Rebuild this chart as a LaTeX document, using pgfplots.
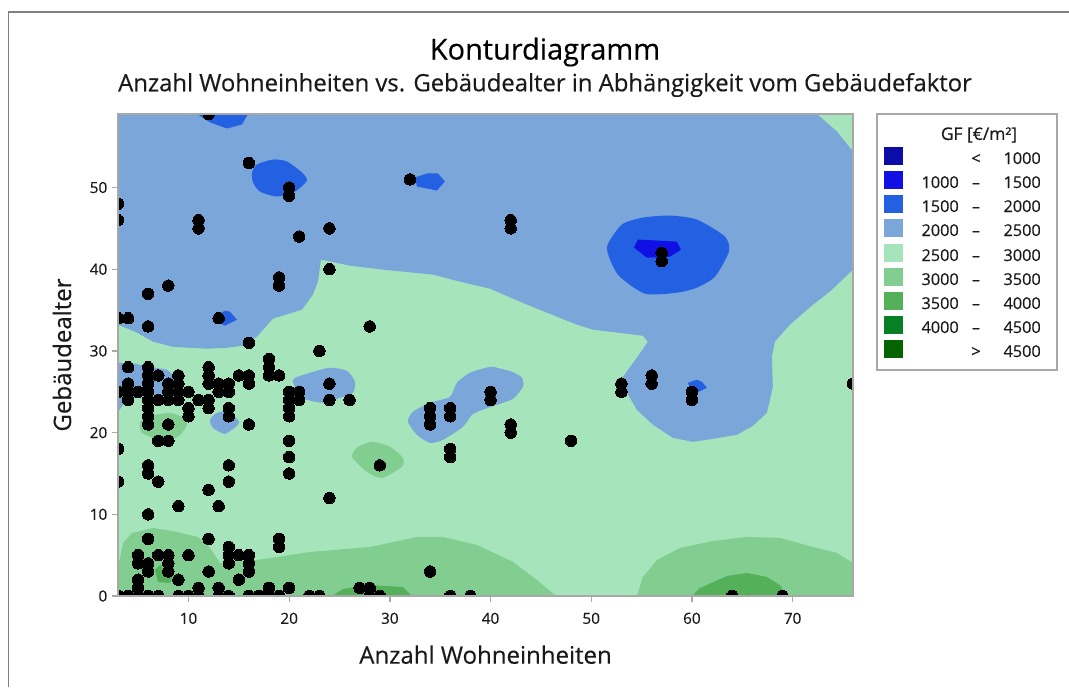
\documentclass[border=0pt]{standalone}
\usepackage{pgfplots}
\usepackage{fontspec}
\setmainfont{Open Sans}
\newfontfamily\semi[FakeBold=0.35]{Open Sans}
\pgfplotsset{compat=1.18}
\definecolor{cA}{HTML}{0C0CA8}
\definecolor{cB}{HTML}{1010E4}
\definecolor{cC}{HTML}{2461E2}
\definecolor{cD}{HTML}{7BA6D9}
\definecolor{cE}{HTML}{A6E5BC}
\definecolor{cF}{HTML}{82CE90}
\definecolor{cG}{HTML}{55B05A}
\definecolor{cH}{HTML}{067F25}
\definecolor{cI}{HTML}{056300}
\definecolor{frameg}{HTML}{A8A8A8}
\definecolor{txt}{HTML}{1A1A1A}
\begin{document}
\begin{tikzpicture}
\path[use as bounding box] (0,0) rectangle (801.75pt,515.25pt);
\fill[white] (0,0) rectangle (801.75pt,515.25pt);
\begin{axis}[
 at={(88.5pt,68.25pt)},anchor=south west,
 scale only axis,width=551.25pt,height=361.5pt,
 xmin=3,xmax=76,ymin=0,ymax=59,
 xtick={10,20,30,40,50,60,70},ytick={0,10,20,30,40,50},
 axis line style={color=frameg,line width=1.1pt},
 tick style={color=frameg,line width=1pt},
 tick align=outside,major tick length=4.5pt,
 xtick pos=bottom,ytick pos=left,
 /pgf/number format/assume math mode=true,
 tick label style={font=\semi\fontsize{11.5}{13}\selectfont,text=txt},
 xticklabel style={yshift=-4.5pt},
 xlabel={Anzahl Wohneinheiten},ylabel={Gebäudealter},
 label style={font=\semi\fontsize{18}{20}\selectfont,text=txt},
 xlabel style={at={(axis description cs:0.5,0)},anchor=center,yshift=-44pt},
 ylabel style={at={(axis description cs:0,0.5)},anchor=center,yshift=42pt},
 axis on top,
 clip marker paths=true,
 axis background/.style={fill=cE},
]
% 2000-2500 main region
\addplot[draw=none,fill=cD] coordinates {(3,33.2)(4.7,32.35)(6.48,31.13)(8.46,30.5)(11.84,30.27)(13.82,30.39)(15.41,30.64)(16.8,31.74)(18.39,33.95)(21.27,35.05)(22.36,36.89)(22.86,38.48)(23.16,41.18)(26.04,40.44)(29.32,39.95)(34.28,39.34)(36.96,38.48)(39.94,37.62)(42.92,36.03)(45.6,34.68)(48.58,33.21)(50.17,32.6)(55.13,31.86)(55.63,31.13)(54.54,29.17)(53.15,26.84)(53.55,24.88)(54.54,22.79)(56.13,20.96)(58.11,19.36)(60.1,18.87)(62.09,19.24)(64.47,19.73)(66.06,20.83)(67.45,22.43)(68.04,25.61)(67.95,29.29)(68.24,31.13)(69.73,33.21)(72.02,35.66)(73.7,37.26)(76,39.95)(76,54.41)(74.4,56.86)(72.41,59)(3,59)} -- cycle;
% 2000-2500 patches
\addplot[draw=none,fill=cD] coordinates {(3,28.55)(4.69,28.43)(6.18,28.06)(7.87,27.7)(8.66,26.84)(8.96,25.86)(8.96,24.63)(5.88,24.63)(3.89,24.02)(3,22.55)} -- cycle;
\addplot[draw=none,fill=cD,smooth cycle,tension=0.4] coordinates {(12.14,21.57)(12.83,22.43)(13.82,22.55)(14.92,21.57)(14.92,20.96)(13.63,19.85)(12.43,20.59)};
\addplot[draw=none,fill=cD,smooth cycle,tension=0.4] coordinates {(20.38,26.47)(22.07,27.33)(24.05,27.94)(25.74,27.57)(26.54,26.23)(26.34,24.88)(25.05,24.27)(23.36,23.65)(21.77,24.02)(21.07,24.39)};
\addplot[draw=none,fill=cD,smooth cycle,tension=0.4] coordinates {(31.8,21.32)(32.29,22.55)(33.98,23.65)(35.97,24.39)(36.66,26.1)(37.96,27.33)(39.94,28.06)(40.64,27.94)(42.13,27.45)(43.12,26.72)(43.22,25.61)(42.23,24.14)(40.64,23.41)(38.95,22.67)(38.15,22.18)(37.26,20.71)(35.27,19.12)(33.98,18.75)(32.69,19.73)};
% 3000-3500
\addplot[draw=none,fill=cF,smooth cycle,tension=0.4] coordinates {(5.18,21.2)(5.88,21.94)(8.16,22.43)(9.45,21.81)(9.85,20.96)(8.96,19.49)(7.17,19.12)(5.38,19.98)};
\addplot[draw=none,fill=cF,smooth cycle,tension=0.4] coordinates {(26.24,17.03)(26.83,18.26)(28.32,18.87)(30.01,18.26)(31.3,16.91)(31.2,15.81)(29.22,14.46)(27.73,15.2)};
\addplot[draw=none,fill=cF] coordinates {(3,0)(3,3.55)(3.5,6.5)(4.39,7.72)(6.48,8.33)(8.86,7.84)(10.94,7.23)(12.14,5.88)(13.13,4.04)(16.8,4.41)(22.07,5.39)(28.02,6.0)(32.69,7.23)(35.27,7.23)(38.65,6.25)(42.23,4.17)(44.61,1.96)(46.5,0)} -- cycle;
\addplot[draw=none,fill=cF] coordinates {(54.54,0)(55.13,2.33)(56.53,4.41)(58.81,5.88)(62.09,6.74)(65.46,7.23)(68.74,7.11)(72.02,6.0)(74.4,5.27)(76,4.04)(76,0)} -- cycle;
% 3500-4000
\addplot[draw=none,fill=cG] coordinates {(6.67,3.19)(7.17,3.8)(8.46,2.33)(8.16,1.59)(6.97,1.72)} -- cycle;
\addplot[draw=none,fill=cG] coordinates {(24.25,0)(25.34,0.86)(28.02,1.35)(31.3,1.1)(32.2,0)} -- cycle;
\addplot[draw=none,fill=cG] coordinates {(60,0)(60.8,0.98)(63.48,2.45)(65.46,2.82)(67.45,2.33)(68.74,1.35)(69.43,0)} -- cycle;
% 4000-4500
\addplot[draw=none,fill=cH] coordinates {(65.27,0)(65.66,0.18)(66.06,0)} -- cycle;
% 1500-2000
\addplot[draw=none,fill=cC] coordinates {(10.85,59)(12.14,57.97)(13.82,57.23)(15.31,57.72)(15.91,59)} -- cycle;
\addplot[draw=none,fill=cC,smooth cycle,tension=0.4] coordinates {(16.31,51.84)(16.8,52.82)(18.39,53.43)(19.78,53.19)(21.27,51.84)(21.77,50.86)(20.58,49.51)(18.79,48.9)(17.1,49.51)(16.41,50.61)};
\addplot[draw=none,fill=cC] coordinates {(32.49,51.23)(33.68,51.72)(34.78,51.72)(35.47,50.74)(34.68,49.63)(33.68,49.88)(32.69,50.12)} -- cycle;
\addplot[draw=none,fill=cC] coordinates {(12.43,34.07)(13.63,34.93)(14.12,34.8)(14.82,33.82)(13.63,33.09)(12.83,33.58)} -- cycle;
\addplot[draw=none,fill=cC,smooth cycle,tension=0.4] coordinates {(51.56,42.65)(53.05,45.47)(55.13,46.32)(57.82,46.57)(60.5,46.08)(63.28,44)(63.68,42.16)(62.29,39.09)(60.5,37.75)(58.51,37.13)(55.33,37.01)(52.65,39.34)};
\addplot[draw=none,fill=cC] coordinates {(59.6,26.1)(60.5,26.47)(60.99,26.23)(61.49,25.49)(60.1,24.63)} -- cycle;
% 1000-1500
\addplot[draw=none,fill=cB] coordinates {(54.24,42.65)(54.64,43.63)(58.51,43.38)(58.91,42.4)(57.82,41.54)(55.53,41.42)} -- cycle;
% observations
\addplot[only marks,mark=*,mark size=4.3pt,mark options={fill=black,draw=black,line width=0pt}] table {
12 59
16 53
20 50
20 49
32 51
3 48
3 46
11 46
11 45
24 45
21 44
42 46
42 45
57 42
57 41
24 40
19 39
19 38
8 38
6 37
3 34
4 34
13 34
6 33
28 33
16 31
23 30
18 29
18 28
18 27
19 27
4 28
6 28
6 27
6 26
6 25
6 24
6 23
6 22
6 21
7 27
4 26
4 25
4 24
3 25
5 25
8 26
8 25
8 24
7 24
9 27
9 26
9 25
9 24
8 21
7 19
8 19
3 18
6 16
6 15
7 14
3 14
14 16
14 14
12 13
13 11
9 11
6 10
12 28
12 27
12 26
13 26
14 26
13 25
14 25
10 25
11 24
12 24
10 23
10 22
12 23
14 23
14 22
16 21
15 27
16 27
16 26
20 25
20 24
20 23
20 22
20 19
20 17
20 15
21 25
21 24
24 26
24 24
26 24
24 12
29 16
34 23
34 22
34 21
36 23
36 22
36 18
36 17
40 25
40 24
42 21
42 20
48 19
53 26
53 25
56 27
56 26
60 25
60 24
76 26
6 7
12 7
19 7
19 6
5 5
5 4
7 5
8 5
10 5
8 4
8 3
6 4
6 3
9 2
12 3
14 6
14 5
14 4
15 5
16 5
16 4
16 3
15 2
5 2
5 1
11 1
13 1
18 1
20 1
27 1
28 1
34 3
3 0
4 0
5 0
6 0
7 0
9 0
10 0
11 0
13 0
14 0
16 0
17 0
18 0
19 0
22 0
23 0
28 0
29 0
36 0
38 0
64 0
69 0
};
\end{axis}
\begin{scope}[shift={(0pt,515.25pt)},x=0.75pt,y=-0.75pt]
\draw[color=black!50,line width=1.1pt] (8.5,687) -- (8.5,12) -- (1069,12);
\node[text=black,font=\semi\fontsize{21.7}{24}\selectfont] at (545,52) {Konturdiagramm};
\node[text=txt,font=\semi\fontsize{17.9}{20}\selectfont] at (545,85) {Anzahl Wohneinheiten vs. Gebäudealter in Abhängigkeit vom Gebäudefaktor};
% legend
\draw[color=frameg,line width=0.8pt,fill=white] (877,114) rectangle (1057,370);
\node[text=txt,font=\semi\fontsize{13}{15}\selectfont] at (979,135) {GF [€/m²]};
\foreach \c/\py/\a/\d/\b in {cA/156//</1000,cB/180/1000/–/1500,cC/204/1500/–/2000,cD/228/2000/–/2500,cE/253/2500/–/3000,cF/277/3000/–/3500,cG/301/3500/–/4000,cH/325/4000/–/4500,cI/349//>/4500}{
 \fill[\c] (884,\py-9) rectangle (903,\py+9);
 \node[text=txt,anchor=base east,inner sep=0pt,font=\semi\fontsize{12.2}{14}\selectfont] at (959,\py+8) {\a};
 \node[text=txt,anchor=base,inner sep=0pt,font=\semi\fontsize{12.2}{14}\selectfont] at (976,\py+8) {\d};
 \node[text=txt,anchor=base east,inner sep=0pt,font=\semi\fontsize{12.2}{14}\selectfont] at (1041,\py+8) {\b};
}
\end{scope}
\end{tikzpicture}
\end{document}
